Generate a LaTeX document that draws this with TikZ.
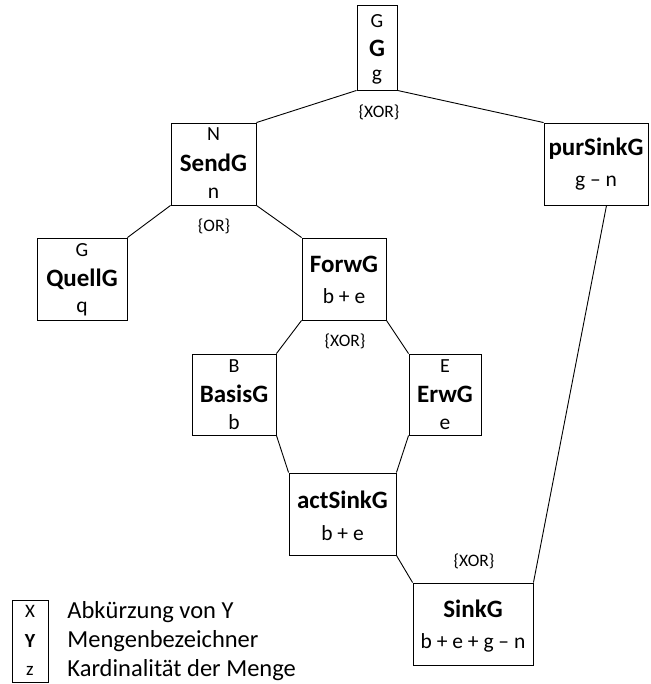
\documentclass[tikz,border=0pt]{standalone}
\usepackage{fontspec}
\setmainfont{Carlito}
\usetikzlibrary{calc}
\begin{document}
\begin{tikzpicture}[x=1pt,y=-1pt,
  line width=0.9pt,
  setbox/.style={draw, line width=0.9pt, inner sep=0pt},
  setabbr/.style={inner sep=0pt, anchor=base, font=\fontsize{20}{20}\selectfont},
  setname/.style={inner sep=0pt, anchor=base, font=\fontsize{25}{25}\selectfont\bfseries},
  setcard/.style={inner sep=0pt, anchor=base, font=\fontsize{21.5}{21.5}\selectfont},
  oplabel/.style={inner sep=0pt, font=\fontsize{17.5}{17.5}\selectfont},
  legtext/.style={inner sep=0pt, anchor=base west, font=\fontsize{24.5}{24.5}\selectfont},
  legkey/.style={inner sep=0pt, anchor=base, font=\fontsize{19}{19}\selectfont},
  link/.style={line width=0.9pt}]
\useasboundingbox (0,0) rectangle (650,684);

% sets
\node[setbox, minimum width=40pt,  minimum height=85pt] (G)  at (377,47.5) {};
\node[setbox, minimum width=85pt,  minimum height=82pt] (N)  at (213.5,164) {};
\node[setbox, minimum width=104pt, minimum height=82pt] (P)  at (596,164) {};
\node[setbox, minimum width=90pt,  minimum height=82pt] (Q)  at (82,279) {};
\node[setbox, minimum width=84pt,  minimum height=82pt] (F)  at (344,279) {};
\node[setbox, minimum width=84pt,  minimum height=81pt] (B)  at (234,394.5) {};
\node[setbox, minimum width=72pt,  minimum height=81pt] (E)  at (445,394.5) {};
\node[setbox, minimum width=107pt, minimum height=82pt] (A)  at (342.5,514) {};
\node[setbox, minimum width=120pt, minimum height=82pt] (S)  at (473,624) {};
\node[setbox, minimum width=36pt,  minimum height=82pt] (L)  at (30,641) {};

% labels inside the sets
\node[setabbr] (G1) at (377,28) {G};
\node[setname] (G2) at (377,57) {G};
\node[setcard] (G3) at (377,81) {g};

\node[setabbr] (N1) at (213.5,141) {N};
\node[setname] (N2) at (213.5,172) {SendG};
\node[setcard] (N3) at (213.5,199) {n};

\node[setname] (P2) at (596,156) {purSinkG};
\node[setcard] (P3) at (596,187) {g – n};

\node[setabbr] (Q1) at (82,257) {G};
\node[setname] (Q2) at (82,286) {QuellG};
\node[setcard] (Q3) at (82,312) {q};

\node[setname] (F2) at (344,272) {ForwG};
\node[setcard] (F3) at (344,303) {b + e};

\node[setabbr] (B1) at (234,372) {B};
\node[setname] (B2) at (234,402) {BasisG};
\node[setcard] (B3) at (234,429) {b};

\node[setabbr] (E1) at (445,372) {E};
\node[setname] (E2) at (445,402) {ErwG};
\node[setcard] (E3) at (445,429) {e};

\node[setname] (A2) at (342.5,508) {actSinkG};
\node[setcard] (A3) at (342.5,540) {b + e};

\node[setname] (S2) at (473,617) {SinkG};
\node[setcard] (S3) at (473,648) {b + e + g – n};

% decomposition lines
\draw[link] (G.south west) -- (N.north east);
\draw[link] (G.south east) -- (P.north west);
\draw[link] (N.south west) -- (Q.north east);
\draw[link] (N.south east) -- (F.north west);
\draw[link] (F.south west) -- (B.north east);
\draw[link] (F.south east) -- (E.north west);
\draw[link] (B.south east) -- (A.north west);
\draw[link] (E.south west) -- (A.north east);
\draw[link] (A.south east) -- (S.north west);
\coordinate (Pfoot) at ($(P.south west)!0.6!(P.south east)$);
\draw[link] (Pfoot) -- (S.north east);

% operators
\node[oplabel] (o1) at (379,112) {\{XOR\}};
\node[oplabel] (o2) at (214,226) {\{OR\}};
\node[oplabel] (o3) at (345,341) {\{XOR\}};
\node[oplabel] (o4) at (474,561) {\{XOR\}};

% legend
\node[legkey] (Lx) at (30,617) {X};
\node[legkey, font=\fontsize{20}{20}\selectfont\bfseries] (Ly) at (30,647) {Y};
\node[legkey] (Lz) at (30,675.5) {z};
\node[legtext] (Lt1) at (67,618) {Abkürzung von Y};
\node[legtext] (Lt2) at (67,647.5) {Mengenbezeichner};
\node[legtext] (Lt3) at (67,676) {Kardinalität der Menge};
\end{tikzpicture}
\end{document}
